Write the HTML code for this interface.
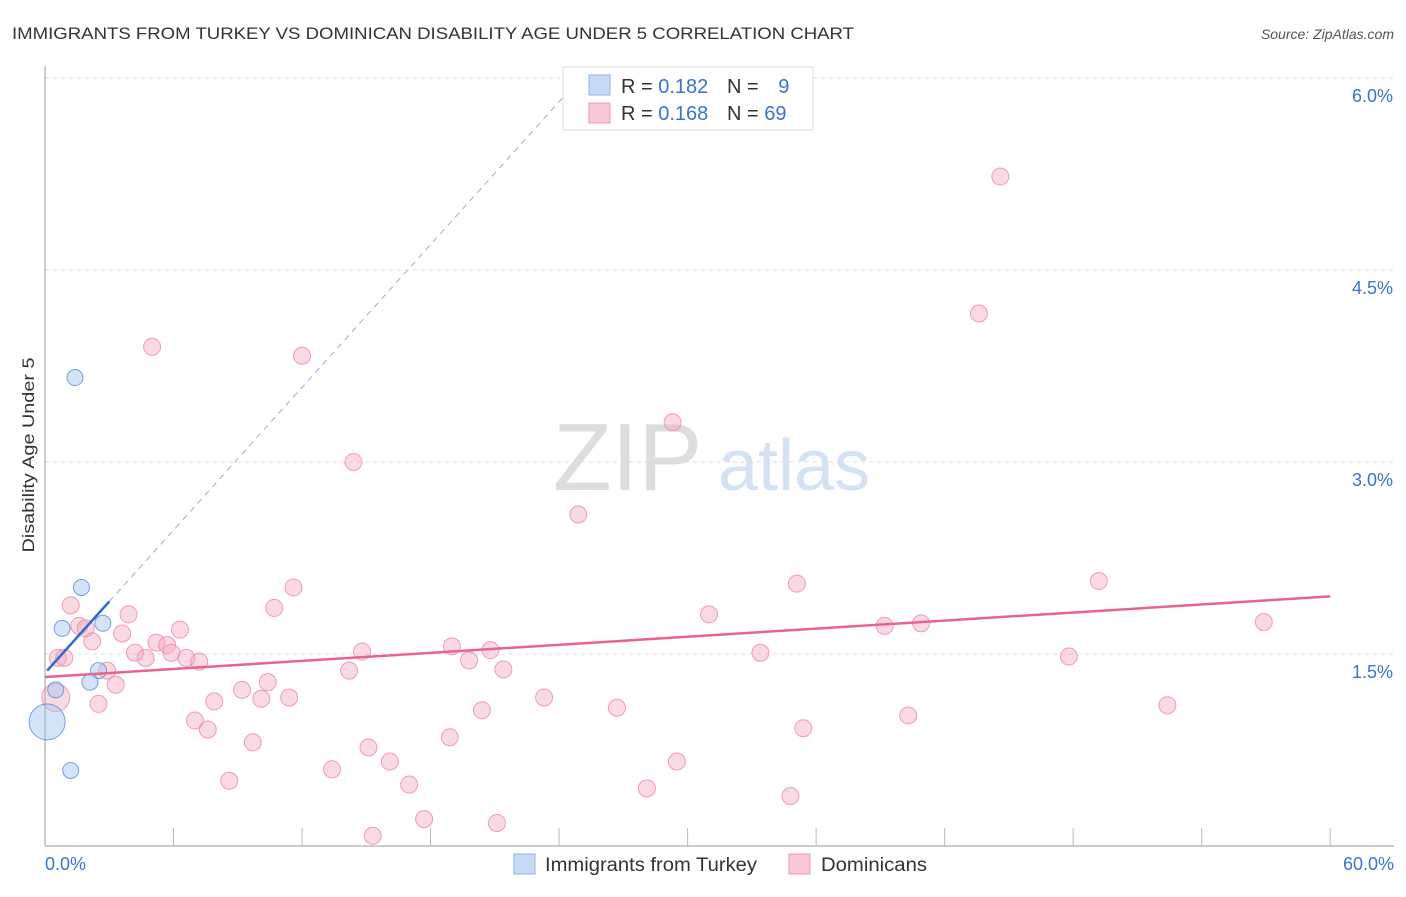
<!DOCTYPE html>
<html><head><meta charset="utf-8"><style>
body{margin:0;background:#fff;font-family:"Liberation Sans",sans-serif;}
svg text{font-family:"Liberation Sans",sans-serif;}
</style></head><body>
<svg id="chart" width="1406" height="892" xmlns="http://www.w3.org/2000/svg">
<text x="12" y="39" font-size="17" fill="#333" textLength="842" lengthAdjust="spacingAndGlyphs">IMMIGRANTS FROM TURKEY VS DOMINICAN DISABILITY AGE UNDER 5 CORRELATION CHART</text>
<text x="1394" y="39" font-size="14" fill="#555" font-style="italic" text-anchor="end">Source: ZipAtlas.com</text>
<text x="553" y="490" font-size="96" fill="#ddd" font-family="Liberation Serif">ZIP</text>
<text x="718" y="490" font-size="72" fill="#d3e2f5">atlas</text>
<g id="grid"></g><g id="axes"></g><g id="pts"></g><g id="trends"></g>
<text transform="translate(34,455) rotate(-90)" font-size="17" fill="#333" text-anchor="middle" textLength="195" lengthAdjust="spacingAndGlyphs">Disability Age Under 5</text>
<g>
<rect x="563" y="67" width="250" height="63" fill="#fff" stroke="#ddd"/>
<rect x="589" y="75" width="21" height="20" fill="#c5daf5" stroke="#8fb3e6"/>
<rect x="589" y="103" width="21" height="20" fill="#f9c7d6" stroke="#eb9ab3"/>
<text x="621" y="93" font-size="20" fill="#333">R = <tspan fill="#3a73d0">0.182</tspan></text>
<text x="727" y="93" font-size="20" fill="#333">N = <tspan fill="#3a73d0" dx="14">9</tspan></text>
<text x="621" y="120" font-size="20" fill="#333">R = <tspan fill="#3a73d0">0.168</tspan></text>
<text x="727" y="120" font-size="20" fill="#333">N = <tspan fill="#3a73d0">69</tspan></text>
</g>
<g>
<rect x="514" y="854" width="21" height="20" fill="#c5daf5" stroke="#8fb3e6"/>
<text x="545" y="871" font-size="19" fill="#333" textLength="212" lengthAdjust="spacingAndGlyphs">Immigrants from Turkey</text>
<rect x="789" y="854" width="21" height="20" fill="#f9c7d6" stroke="#eb9ab3"/>
<text x="821" y="871" font-size="19" fill="#333" textLength="106" lengthAdjust="spacingAndGlyphs">Dominicans</text>
</g>
</svg>
<script>
const yTicks=[1.5,3.0,4.5,6.0];
const yTickLabels=["1.5%","3.0%","4.5%","6.0%"];
const xLabels=["0.0%","60.0%"];
const turkeyX=[1.4,1.7,0.8,2.7,2.5,2.1,0.5,1.2,0.1];
const turkeyY=[3.66,2.02,1.70,1.74,1.37,1.28,1.22,0.59,0.97];
const turkeyR=[8,8,8,8,8,8,8,8,18];
const domX=[1.2,1.6,1.9,2.2,3.6,3.9,0.6,0.9,2.9,3.3,2.5,0.5,5.0,12.0,14.4,24.9,29.3,44.6,43.6,11.6,10.7,6.3,5.2,5.7,5.9,4.2,4.7,6.6,7.2,14.2,14.8,19.0,20.8,19.8,21.4,9.2,10.4,7.9,10.1,11.4,7.0,7.6,9.7,8.6,13.4,15.1,16.1,17.0,15.3,17.7,18.9,20.4,21.1,23.3,26.7,28.1,29.5,31.0,33.4,35.1,34.8,35.4,39.2,40.9,40.3,47.8,49.2,52.4,56.9];
const domY=[1.88,1.72,1.70,1.60,1.66,1.81,1.47,1.47,1.37,1.26,1.11,1.16,3.90,3.83,3.00,2.59,3.31,5.23,4.16,2.02,1.86,1.69,1.59,1.57,1.51,1.51,1.47,1.47,1.44,1.37,1.52,1.56,1.53,1.45,1.38,1.22,1.28,1.13,1.15,1.16,0.98,0.91,0.81,0.51,0.60,0.77,0.66,0.48,0.08,0.21,0.85,1.06,0.18,1.16,1.08,0.45,0.66,1.81,1.51,2.05,0.39,0.92,1.72,1.74,1.02,1.48,2.07,1.10,1.75];
const domTrend=[1.32,1.95];
const turkeyTrendSolid=[[0.1,1.37],[3.0,1.91]];
const turkeyTrendDash=[[3.0,1.91],[24.3,5.87]];
const NS="http://www.w3.org/2000/svg";
const xS=v=>45+v*21.42, yS=v=>846-v*128;
function mk(tag,attrs,parent){const e=document.createElementNS(NS,tag);for(const k in attrs)e.setAttribute(k,attrs[k]);document.getElementById(parent).appendChild(e);return e;}
yTicks.forEach((t,i)=>{
 const l=mk('line',{x1:45,x2:1394,y1:yS(t),y2:yS(t),stroke:'#ddd','stroke-dasharray':'4,4'},'grid');
 
 
 const tx=mk('text',{x:1393,y:yS(t)+24,'font-size':18,fill:'#3a73d0','text-anchor':'end'},'grid');
 tx.textContent=yTickLabels[i];
 
 
});
let ax=mk('line',{x1:45,x2:45,y1:66,y2:846,stroke:'#bbb','stroke-width':1.5},'axes');


ax=mk('line',{x1:45,x2:1394,y1:846,y2:846,stroke:'#bbb','stroke-width':1.5},'axes');


for(let i=1;i<=10;i++){const t=mk('line',{x1:xS(i*6),x2:xS(i*6),y1:828,y2:846,stroke:'#bbb'},'axes');
 
 }
[[0,'start',45],[60,'end',1394]].forEach((d,i)=>{const t=mk('text',{x:d[2],y:870,'font-size':18,fill:'#3a73d0','text-anchor':d[1]},'axes');t.textContent=xLabels[i];
 
 });
domX.forEach((x,i)=>{const c=mk('circle',{cx:xS(x),cy:yS(domY[i]),r:i==11?14:8.5,fill:'rgba(245,160,185,0.4)',stroke:'rgba(232,130,160,0.75)','stroke-width':1},'pts');
 
 });
turkeyX.forEach((x,i)=>{const c=mk('circle',{cx:xS(x),cy:yS(turkeyY[i]),r:turkeyR[i],fill:'rgba(160,195,240,0.45)',stroke:'rgba(80,130,210,0.75)','stroke-width':1},'pts');
 
 });
let l=mk('line',{x1:xS(0),y1:yS(domTrend[0]),x2:xS(60),y2:yS(domTrend[1]),stroke:'#e8638f','stroke-width':2.5},'trends');


l=mk('line',{x1:xS(turkeyTrendSolid[0][0]),y1:yS(turkeyTrendSolid[0][1]),x2:xS(turkeyTrendSolid[1][0]),y2:yS(turkeyTrendSolid[1][1]),stroke:'#2f6bd0','stroke-width':2.5},'trends');


l=mk('line',{x1:xS(turkeyTrendDash[0][0]),y1:yS(turkeyTrendDash[0][1]),x2:xS(turkeyTrendDash[1][0]),y2:yS(turkeyTrendDash[1][1]),stroke:'#8fb0e0','stroke-width':1,'stroke-dasharray':'6,5'},'trends');


</script>
</body></html>
